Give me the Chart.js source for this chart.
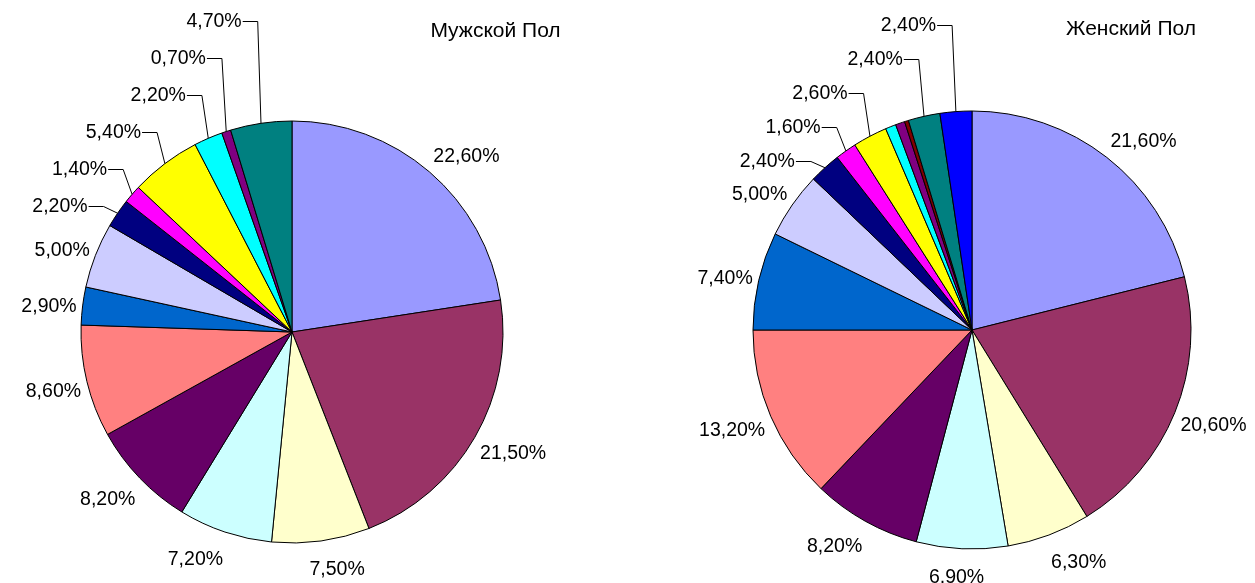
<!DOCTYPE html>
<html>
<head>
<meta charset="utf-8">
<script src="https://cdn.jsdelivr.net/npm/chart.js@4.4.1/dist/chart.umd.min.js"></script>
<style>
    body { margin: 0; background: #fff; }
    #wrap { position: relative; width: 1255px; height: 583px; overflow: hidden; }
    canvas { position: absolute; top: 0; }
</style>
</head>
<body>
<div id="wrap">
    <canvas id="maleChart" width="627" height="583" style="left:0"></canvas>
    <canvas id="femaleChart" width="628" height="583" style="left:627px"></canvas>
</div>
<script>
'use strict';

const maleCategories = ['1', '2', '3', '4', '5', '6', '7', '8', '9', '10', '11', '12', '13', '14'];
const maleValues = [22.6, 21.5, 7.5, 7.2, 8.2, 8.6, 2.9, 5.0, 2.2, 1.4, 5.4, 2.2, 0.7, 4.7];

const femaleCategories = ['1', '2', '3', '4', '5', '6', '7', '8', '9', '10', '11', '12', '13', '14', '15', '16'];
const femaleValues = [21.6, 20.6, 6.3, 6.9, 8.2, 13.2, 7.4, 5.0, 2.4, 1.6, 2.6, 0.8, 0.7, 0.3, 2.4, 2.4];

const maleColors = [
    '#9999FF', '#993366', '#FFFFCC', '#CCFFFF', '#660066', '#FF8080', '#0066CC',
    '#CCCCFF', '#000080', '#FF00FF', '#FFFF00', '#00FFFF', '#800080', '#008080'
];
const femaleColors = [
    '#9999FF', '#993366', '#FFFFCC', '#CCFFFF', '#660066', '#FF8080', '#0066CC',
    '#CCCCFF', '#000080', '#FF00FF', '#FFFF00', '#00FFFF', '#800080', '#800000',
    '#008080', '#0000FF'
];

const FONT = '"Liberation Sans", Arial, sans-serif';

// data labels, leader lines and the chart title
const pieLabels = {
    id: 'pieLabels',
    afterDatasetsDraw(chart, args, opts) {
        const ctx = chart.ctx;
        const arcs = chart.getDatasetMeta(0).data;
        const values = chart.data.datasets[0].data;
        ctx.save();
        ctx.font = '19.5px ' + FONT;
        ctx.fillStyle = '#000';
        ctx.strokeStyle = '#000';
        ctx.lineWidth = 1;
        ctx.textBaseline = 'middle';
        let prevY = Infinity;
        arcs.forEach((arc, i) => {
            if (opts.hidden.includes(i)) return;
            const text = values[i].toFixed(2).replace('.', ',') + '%';
            const w = ctx.measureText(text).width;
            const mid = (arc.startAngle + arc.endAngle) / 2;
            const ux = Math.cos(mid), uy = Math.sin(mid);
            const r = arc.outerRadius;
            const ex = arc.x + r * ux, ey = arc.y + r * uy;
            if (opts.leader.includes(i)) {
                const ly = Math.round(Math.min(ey - 7, prevY - opts.step)) + 0.5;
                prevY = ly;
                const dx = Math.max(3, Math.min(14, 400 / (ey - ly + 20)));
                const kx = ex - dx;
                ctx.beginPath();
                ctx.moveTo(ex, ey);
                ctx.lineTo(kx, ly);
                ctx.lineTo(kx - 15, ly);
                ctx.stroke();
                ctx.textAlign = 'right';
                ctx.fillText(text, kx - 16, ly);
            } else {
                const ox = Math.sign(ux) * (w / 2) * Math.min(1, Math.abs(ux) * 4) + ux * 6;
                const oy = 4 + 25 * uy;
                ctx.textAlign = 'center';
                ctx.fillText(text, ex + ox, ey + oy);
            }
        });
        ctx.font = '21px ' + FONT;
        ctx.textAlign = 'center';
        ctx.fillText(opts.title, arcs[0].x + opts.titleDx, opts.titleY);
        ctx.restore();
    }
};

function makePie(id, categories, values, colors, radius, padding, labelOpts) {
    return new Chart(document.getElementById(id), {
        type: 'pie',
        data: {
            labels: categories,
            datasets: [{
                data: values,
                backgroundColor: colors,
                borderColor: '#000',
                borderWidth: 1,
                radius: radius
            }]
        },
        options: {
            responsive: false,
            animation: false,
            layout: { padding: padding },
            plugins: {
                legend: { display: false },
                tooltip: { enabled: false },
                pieLabels: labelOpts
            }
        },
        plugins: [pieLabels]
    });
}

makePie('maleChart', maleCategories, maleValues, maleColors, 211,
    { left: 0, right: 43, top: 81, bottom: 0 },
    { hidden: [], leader: [8, 9, 10, 11, 12, 13], step: 37.5,
      title: 'Мужской Пол', titleDx: 203.5, titleY: 31 });

makePie('femaleChart', femaleCategories, femaleValues, femaleColors, 219,
    { left: 62, right: 0, top: 77, bottom: 0 },
    { hidden: [11, 12, 13], leader: [8, 9, 10, 14, 15], step: 35,
      title: 'Женский Пол', titleDx: 159, titleY: 29 });
</script>
</body>
</html>
